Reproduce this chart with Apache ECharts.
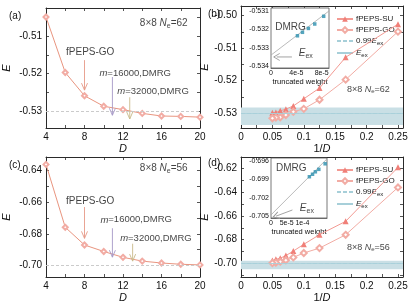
<!DOCTYPE html>
<html><head><meta charset="utf-8">
<script src="https://cdn.jsdelivr.net/npm/echarts@6/dist/echarts.min.js"></script>
<style>html,body{margin:0;padding:0;background:#fff}#c{width:416px;height:304px}</style>
</head><body><div id="c"></div>
<script>
// ---------------- data ----------------
const D = [4, 6, 8, 10, 12, 14, 16, 18, 20];
const invD = D.map(d => 1 / d);
// Ne=62
const goA = [-0.5049, -0.5197, -0.5259, -0.5287, -0.5296, -0.5306, -0.5313, -0.5314, -0.5316];
const suB = [-0.5026, -0.5128, -0.5223, -0.5256, -0.5278, -0.5288, -0.5293, -0.5298, -0.5299];
const dmrgA = [-0.5311, -0.5321];           // m=16000, m=32000
const eexB = -0.5337, eex99B = -0.5283;
// Ne=56
const goC = [-0.6361, -0.6759, -0.6871, -0.6912, -0.6949, -0.6973, -0.6985, -0.6993, -0.6997];
const suD = [-0.6192, -0.6646, -0.6758, -0.6839, -0.6896, -0.6934, -0.6956, -0.6965, -0.6976];
const dmrgC = [-0.6962, -0.6978];
const eexD = -0.7048, eex99D = -0.6977;
// arrows (start, end) in data units
const arrGO_A = [[8, -0.5164], [8, -0.5244]];
const arr16_A = [[10.9, -0.5209], [10.9, -0.5311]];
const arr32_A = [[12.7, -0.5263], [12.7, -0.5321]];
const arrGO_C = [[8, -0.6631], [8, -0.6829]];
const arr16_C = [[10.9, -0.6765], [10.9, -0.6948]];
const arr32_C = [[13.0, -0.6863], [13.0, -0.6973]];
// insets: DMRG energy vs truncated weight
const twB = [4.17e-5, 4.96e-5, 5.9e-5, 6.9e-5, 8.31e-5];
const eB = [-0.53235, -0.53216, -0.53195, -0.53171, -0.53129];
const fitB = [[0, -0.5334], [9.15e-5, -0.5310]];
const twD = [1.22e-4, 1.32e-4, 1.41e-4, 1.52e-4, 1.72e-4];
const eD = [-0.6986, -0.6982, -0.6978, -0.6974, -0.6965];
const fitD = [[0, -0.7048], [1.78e-4, -0.6957]];
// tick labels
const xTicksAC = [4, 8, 12, 16, 20];
const xTicksBD = [0, 0.05, 0.1, 0.15, 0.2, 0.25];
const yTicksA = [-0.53, -0.52, -0.51];
const yTicksB = [-0.53, -0.52, -0.51, -0.50];
const yTicksC = [-0.70, -0.68, -0.66, -0.64];
const yTicksD = [-0.70, -0.68, -0.66, -0.64, -0.62];
const inXB = [0, 4e-5, 8e-5], inXBlab = ['0', '4e-5', '8e-5'];
const inYB = [-0.534, -0.533, -0.532, -0.531];
const inXD = [0, 5e-5, 1e-4], inXDlab = ['0', '5e-5', '1e-4'];
const inYD = [-0.705, -0.702, -0.699, -0.696];

// ---------------- style ----------------
const FONT = '"Liberation Sans", Arial, sans-serif';
const AX = '#2a2a2a';
const C_SU = '#f07f78', C_SUL = '#f39a93';
const C_GO = '#f2aca4';
const C_LA = '#e9957f';
const C_BAND = '#c9dfe5', C_EEX = '#a7cfd9';
const C_DASH = '#c9c9c9';
const C_AGO = '#e69a88', C_A16 = '#a698c6', C_A32 = '#c9b98a';
const C_PT = '#2b8fae';

function rich(s) {
  return {
    it: { fontStyle: 'italic', fontSize: s, fontFamily: FONT },
    sub: { fontSize: Math.round(s * 0.72), fontFamily: FONT, padding: [Math.round(s * 0.5), 0, 0, 0] }
  };
}
function steps(a, b, st) { const r = []; for (let v = a; v <= b + st * 1e-6; v += st) r.push(+v.toFixed(6)); return r; }

const grids = [
  { left: 42, top: 8, width: 158, height: 120 },
  { left: 241, top: 6, width: 162, height: 122 },
  { left: 42, top: 157, width: 158, height: 124 },
  { left: 241, top: 157, width: 162, height: 124 },
  { left: 271, top: 8, width: 58, height: 60, show: true, backgroundColor: '#fff', borderColor: '#555', borderWidth: 0.8, z: 5 },
  { left: 271, top: 158, width: 56, height: 60, show: true, backgroundColor: '#fff', borderColor: '#555', borderWidth: 0.8, z: 5 }
];

const xAxes = [], yAxes = [];
function mainX(gi, min, max, ticks, labels, fmt, name) {
  const base = { type: 'value', gridIndex: gi, min, max, splitLine: { show: false },
    axisLine: { show: true, onZero: false, lineStyle: { color: AX, width: 1 } },
    axisTick: { show: true, inside: true, length: 3, customValues: ticks, lineStyle: { color: AX, width: 0.8 } } };
  xAxes.push(Object.assign({}, base, { position: 'bottom',
    axisLabel: { show: true, customValues: labels, formatter: fmt, color: '#111', fontSize: 10, fontFamily: FONT, margin: 4 },
    name, nameLocation: 'middle', nameGap: 15,
    nameTextStyle: { fontSize: 11, fontFamily: FONT, color: '#111', rich: rich(11) } }));
  xAxes.push(Object.assign({}, base, { position: 'top', axisLabel: { show: false } }));
}
function mainY(gi, min, max, ticks, labels, fmt, gap) {
  const base = { type: 'value', gridIndex: gi, min, max, splitLine: { show: false },
    axisLine: { show: true, onZero: false, lineStyle: { color: AX, width: 1 } },
    axisTick: { show: true, inside: true, length: 3, customValues: ticks, lineStyle: { color: AX, width: 0.8 } } };
  yAxes.push(Object.assign({}, base, { position: 'left',
    axisLabel: { show: true, customValues: labels, formatter: fmt, color: '#111', fontSize: 10, fontFamily: FONT, margin: 4 },
    name: 'E', nameLocation: 'middle', nameGap: gap, nameRotate: 90,
    nameTextStyle: { fontSize: 11, fontStyle: 'italic', fontFamily: FONT, color: '#111' } }));
  yAxes.push(Object.assign({}, base, { position: 'right', axisLabel: { show: false } }));
}
const f2 = v => v.toFixed(2);
const fx = v => String(+v.toFixed(3));
const fD = v => String(Math.round(v));

mainX(0, 4, 20, steps(4, 20, 2), xTicksAC, fD, 'D');
mainX(1, 0, 0.258, steps(0, 0.25, 0.025), xTicksBD, fx, '1/{it|D}');
mainX(2, 4, 20, steps(4, 20, 2), xTicksAC, fD, 'D');
mainX(3, 0, 0.258, steps(0, 0.25, 0.025), xTicksBD, fx, '1/{it|D}');
xAxes[0].nameTextStyle.fontStyle = 'italic';
xAxes[4].nameTextStyle.fontStyle = 'italic';
mainY(0, -0.5345, -0.5025, steps(-0.53, -0.505, 0.005), yTicksA, f2, 34);
mainY(1, -0.5346, -0.4970, steps(-0.53, -0.50, 0.005), yTicksB, f2, 31);
mainY(2, -0.70735, -0.63143, steps(-0.70, -0.64, 0.01), yTicksC, f2, 34);
mainY(3, -0.71138, -0.6105, steps(-0.71, -0.62, 0.01), yTicksD, f2, 31);

function insetAxes(gi, xmin, xmax, xv, xlab, ymin, ymax, yv) {
  xAxes.push({ type: 'value', gridIndex: gi, min: xmin, max: xmax, position: 'bottom', splitLine: { show: false },
    axisLine: { show: true, onZero: false, lineStyle: { color: '#555', width: 0.8 } },
    axisTick: { show: true, inside: true, length: 2, customValues: xv, lineStyle: { color: '#555' } },
    axisLabel: { show: true, customValues: xv, formatter: v => xlab[xv.findIndex(t => Math.abs(t - v) < 1e-9)] || '', fontSize: 7, fontFamily: FONT, color: '#111', margin: 2 },
    name: 'truncated weight', nameLocation: 'middle', nameGap: 10, nameTextStyle: { fontSize: 7.5, fontFamily: FONT, color: '#111' } });
  yAxes.push({ type: 'value', gridIndex: gi, min: ymin, max: ymax, position: 'left', splitLine: { show: false },
    axisLine: { show: true, onZero: false, lineStyle: { color: '#555', width: 0.8 } },
    axisTick: { show: true, inside: true, length: 2, customValues: yv, lineStyle: { color: '#555' } },
    axisLabel: { show: true, customValues: yv, formatter: v => v.toFixed(3), fontSize: 7, fontFamily: FONT, color: '#111', margin: 2 } });
}
insetAxes(4, 0, 9.15e-5, inXB, inXBlab, -0.5341, -0.53084, inYB);
insetAxes(5, 0, 1.78e-4, inXD, inXDlab, -0.7053, -0.69556, inYD);

// ---------------- series ----------------
const series = [];
function arrow(gi, pts, color, dirPath, rot) {
  series.push({ type: 'line', xAxisIndex: gi < 4 ? 2 * gi : gi + 4, yAxisIndex: gi < 4 ? 2 * gi : gi + 4, silent: true, z: 6,
    data: [{ value: pts[0], symbol: 'none' },
           { value: pts[1], symbol: dirPath, symbolSize: [6, 7], symbolRotate: rot || 0, symbolOffset: rot === undefined ? [0, '-50%'] : [0, 0] }],
    lineStyle: { color, width: 0.9 }, itemStyle: { color: 'rgba(0,0,0,0)', borderColor: color, borderWidth: 0.9 } });
}
function text(gi, x, y, fmt, size, color) {
  const ai = gi < 4 ? 2 * gi : gi + 4;
  series.push({ type: 'scatter', xAxisIndex: ai, yAxisIndex: ai, silent: true, z: 8, symbolSize: 1,
    itemStyle: { color: 'rgba(0,0,0,0)' }, data: [[x, y]],
    label: { show: true, position: 'right', distance: 0, formatter: fmt, fontSize: size, color: color || '#111', fontFamily: FONT, rich: rich(size) } });
}
const DOWN = 'path://M0,0L5,8L10,0';
const LEFT = 'path://M8,0L0,4L8,8';

// (a) & (c)
[[0, goA, dmrgA, arrGO_A, arr16_A, arr32_A], [2, goC, dmrgC, arrGO_C, arr16_C, arr32_C]].forEach(([gi, go, dm, aGO, a16, a32]) => {
  series.push({ type: 'line', name: 'GOline' + gi, xAxisIndex: 2 * gi, yAxisIndex: 2 * gi, z: 4,
    data: D.map((d, i) => [d, go[i]]), lineStyle: { color: C_LA, width: 1 },
    symbol: 'emptyDiamond', symbolSize: 5, itemStyle: { color: C_GO, borderWidth: 0.8 },
    markLine: { silent: true, symbol: 'none', label: { show: false }, lineStyle: { color: C_DASH, type: [3, 2], width: 0.8 },
      data: dm.map(v => ({ yAxis: v })) } });
  arrow(gi, aGO, C_AGO, DOWN);
  arrow(gi, a16, C_A16, DOWN);
  arrow(gi, a32, C_A32, DOWN);
});
text(0, 6.03, -0.5143, 'fPEPS-GO', 10);
text(0, 9.5, -0.5199, '{it|m}=16000,DMRG', 9.5);
text(0, 11.35, -0.5247, '{it|m}=32000,DMRG', 9.5);
text(0, 13.7, -0.5066, '8×8 {it|N}{sub|e}=62', 10);
text(2, 6.03, -0.6596, 'fPEPS-GO', 10);
text(2, 9.6, -0.6712, '{it|m}=16000,DMRG', 9.5);
text(2, 11.65, -0.6828, '{it|m}=32000,DMRG', 9.5);
text(2, 13.7, -0.6388, '8×8 {it|N}{sub|e}=56', 10);

// (b) & (d)
[[1, suB, goA, eexB, eex99B, '62', -0.5226], [3, suD, goC, eexD, eex99D, '56', -0.6862]].forEach(([gi, su, go, ex, ex99, ne, ty]) => {
  const ai = 2 * gi;
  series.push({ type: 'line', name: '0.99Eex', xAxisIndex: ai, yAxisIndex: ai, z: 1, data: [], symbol: 'none',
    itemStyle: { color: C_EEX }, lineStyle: { color: C_EEX, width: 1, type: [4, 2] } });
  series.push({ type: 'line', name: 'Eex', xAxisIndex: ai, yAxisIndex: ai, z: 1, data: [], symbol: 'none',
    itemStyle: { color: C_EEX }, lineStyle: { color: C_EEX, width: 1 } });
  series.push({ type: 'line', name: 'fPEPS-SU', xAxisIndex: ai, yAxisIndex: ai, z: 4,
    data: invD.map((x, i) => [x, su[i]]), lineStyle: { color: C_SUL, width: 1 },
    symbol: 'triangle', symbolSize: 6, itemStyle: { color: C_SU },
    markArea: { silent: true, itemStyle: { color: C_BAND }, data: [[{ yAxis: ex99 }, { yAxis: ex }]] },
    markLine: { silent: true, symbol: 'none', label: { show: false },
      data: [{ yAxis: ex99, lineStyle: { color: C_EEX, type: [4, 2], width: 0.8 } }, { yAxis: ex, lineStyle: { color: C_EEX, type: 'solid', width: 0.8 } }] } });
  series.push({ type: 'line', name: 'fPEPS-GO', xAxisIndex: ai, yAxisIndex: ai, z: 4,
    data: invD.map((x, i) => [x, go[i]]), lineStyle: { color: C_GO, width: 1 },
    symbol: 'emptyDiamond', symbolSize: 6, itemStyle: { color: C_GO, borderWidth: 0.8 } });
  text(gi, 0.168, ty, '8×8 {it|N}{sub|e}=' + ne, 9);
});

// insets
[[4, twB, eB, fitB], [5, twD, eD, fitD]].forEach(([gi, tw, e, fit]) => {
  const ai = gi + 4;
  series.push({ type: 'line', xAxisIndex: ai, yAxisIndex: ai, z: 6, silent: true, data: fit, symbol: 'none',
    lineStyle: { color: '#a8a8a8', width: 0.8 } });
  series.push({ type: 'scatter', xAxisIndex: ai, yAxisIndex: ai, z: 7, silent: true,
    data: tw.map((w, i) => [w, e[i]]), symbol: 'rect', symbolSize: 3.5, itemStyle: { color: C_PT } });
});
arrow(4, [[3.3e-5, -0.5335], [0.9e-5, -0.5335]], '#999', LEFT, 0);
arrow(5, [[6.8e-5, -0.7040], [1.6e-5, -0.7050]], '#999', LEFT, 18);
text(4, 0.6e-5, -0.5319, 'DMRG', 10);
text(5, 1.4e-5, -0.6973, 'DMRG', 10);
text(4, 4.3e-5, -0.5333, '{it|E}{sub|ex}', 10);
text(5, 9.0e-5, -0.7037, '{it|E}{sub|ex}', 10);

const legendBase = { orient: 'vertical', itemWidth: 16, itemHeight: 7, itemGap: 3, selectedMode: false,
  data: ['fPEPS-SU', 'fPEPS-GO',
         { name: '0.99Eex', itemStyle: { opacity: 0 } },
         { name: 'Eex', itemStyle: { opacity: 0 } }],
  formatter: n => n === '0.99Eex' ? '0.99{it|E}{sub|ex}' : (n === 'Eex' ? '{it|E}{sub|ex}' : n),
  textStyle: { fontSize: 8, fontFamily: FONT, color: '#222', padding: [0, 0, 0, -2], rich: rich(8) } };

const option = {
  animation: false,
  backgroundColor: '#fff',
  textStyle: { fontFamily: FONT },
  title: [
    { text: '(a)', left: 4, top: 6 }, { text: '(b)', left: 203, top: 4 },
    { text: '(c)', left: 4, top: 155 }, { text: '(d)', left: 203, top: 153 }
  ].map(t => Object.assign(t, { textStyle: { fontSize: 10, fontWeight: 'normal', color: '#111', fontFamily: FONT } })),
  legend: [Object.assign({ left: 331, top: 10 }, legendBase), Object.assign({ left: 331, top: 161 }, legendBase)],
  grid: grids,
  xAxis: xAxes,
  yAxis: yAxes,
  series
};
const chart = echarts.init(document.getElementById('c'), null, { renderer: 'canvas' });
chart.setOption(option);
</script></body></html>
